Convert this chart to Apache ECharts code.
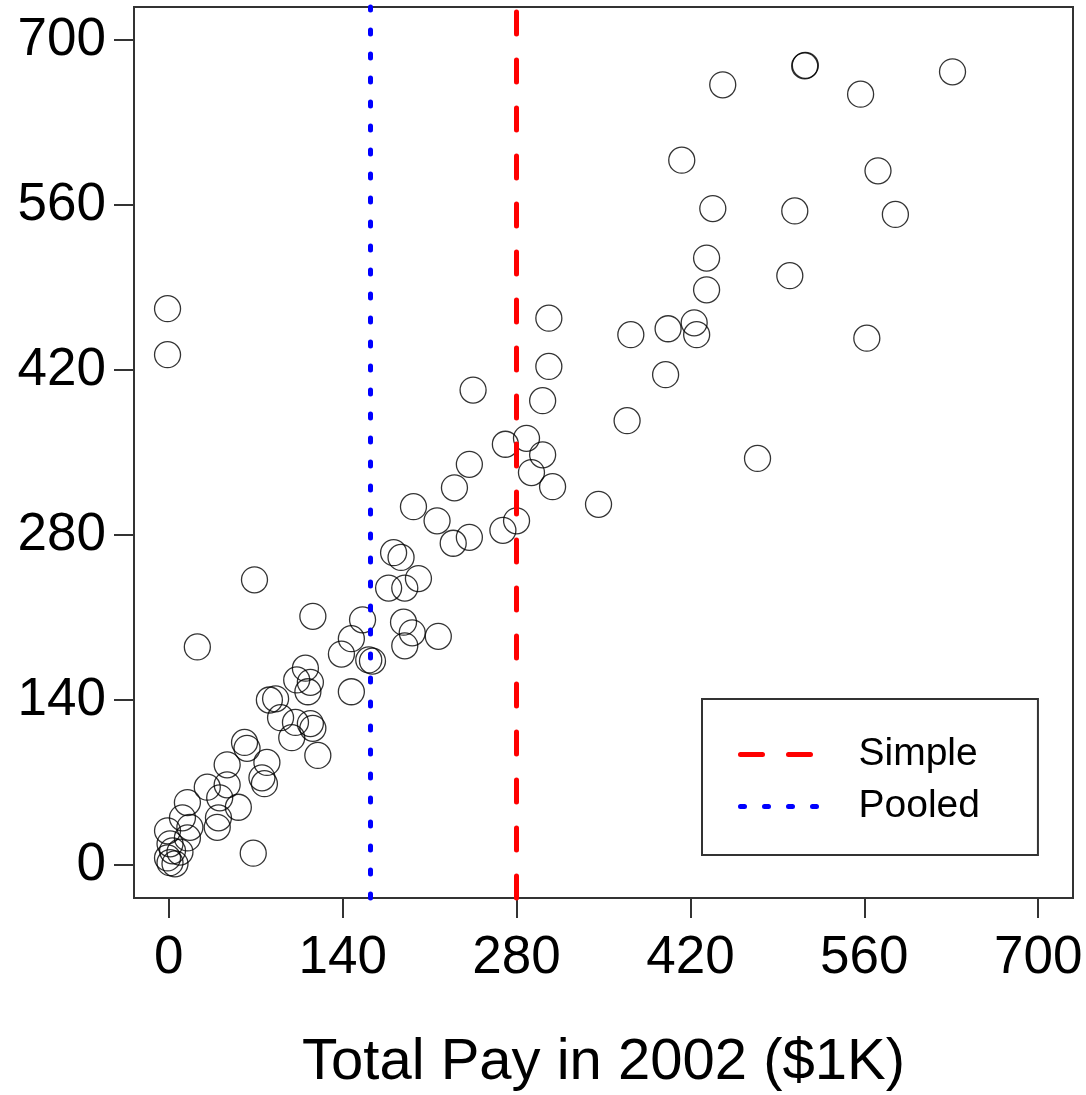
<!DOCTYPE html>
<html>
<head>
<meta charset="utf-8">
<script src="https://cdn.jsdelivr.net/npm/echarts@6/dist/echarts.min.js"></script>
<style>
  html, body { margin: 0; padding: 0; background: #fff; }
  #chart { width: 1086px; height: 1095px; }
</style>
</head>
<body>
<div id="chart"></div>
<script>
// ---- data ----
const payX = [512, 512.5, 631, 446, 557, 413, 571, 438, 504, 585, 433, 433, 500, 372, 402, 423, 425, 562, 400, 369,
  474, 306, 306, 245, 301, 271, 288, 301, 292, 309, 346, 242, 230, 197, 216, 280, 269, 242, 229, 181,
  187, 201, 177, 190, -1, -1, 69, 23, 116, 156, 189, 196, 217, 190, 147, 139, 161, 164, 147, 110,
  114, 103, 112, 81, 86, 90, 102, 114, 116, 99, 120, 61, 63, 79, 47, 75, 77, 31, 47, 56,
  41, 15, 40, 39, 11, 17, -1, 15, 1, 3, 9, -1, 1, 5, 68];
const payY = [678, 678.5, 673, 662, 654, 598, 589, 557, 555, 552, 515, 488, 500, 450, 455, 460, 450, 447, 416, 377,
  345, 464, 423, 403, 394, 357, 362, 348, 333, 321, 306, 340, 320, 304, 292, 292, 284, 278, 273, 265,
  261, 243, 235, 235, 472, 433, 242, 185, 211, 208, 206, 197, 194, 186, 192, 179, 174, 173, 147, 167,
  155, 157, 147, 140, 141, 125, 121, 120, 116, 108, 93, 104, 99, 87, 85, 74, 69, 66, 68, 49,
  57, 53, 40, 32, 40, 32, 29, 23, 18, 12, 11, 6, 2, 1, 10];
const simpleX = 280;
const pooledX = 162.5;
const xTicks = [0, 140, 280, 420, 560, 700];
const yTicks = [0, 140, 280, 420, 560, 700];
const xTitle = 'Total Pay in 2002 ($1K)';
const legendNames = ['Simple', 'Pooled'];

const points = payX.map((x, i) => [x, payY[i]]);

const FONT = "'Liberation Sans', Arial, Helvetica, sans-serif";
const chart = echarts.init(document.getElementById('chart'));

const axisBase = {
  type: 'value',
  min: -28,
  max: 728,
  splitLine: { show: false },
  axisLine: { show: true, onZero: false, lineStyle: { color: '#333', width: 2 } },
  axisTick: { show: true, inside: false, length: 20, lineStyle: { color: '#333', width: 2 } },
  axisLabel: { color: '#000', fontSize: 53, fontFamily: FONT }
};

chart.setOption({
  animation: false,
  backgroundColor: '#fff',
  textStyle: { fontFamily: FONT },
  grid: {
    left: 134, right: 13, top: 7, bottom: 197,
    containLabel: false,
    outerBoundsMode: 'none',
    show: true, borderColor: '#333', borderWidth: 2, backgroundColor: 'transparent'
  },
  xAxis: Object.assign({}, axisBase, {
    axisTick: Object.assign({}, axisBase.axisTick, { customValues: xTicks }),
    axisLabel: Object.assign({}, axisBase.axisLabel, { customValues: xTicks, margin: 34 }),
    name: xTitle,
    nameLocation: 'middle',
    nameGap: 136,
    nameTextStyle: { color: '#000', fontSize: 58, fontFamily: FONT }
  }),
  yAxis: Object.assign({}, axisBase, {
    axisTick: Object.assign({}, axisBase.axisTick, { customValues: yTicks }),
    axisLabel: Object.assign({}, axisBase.axisLabel, { customValues: yTicks, margin: 28 })
  }),
  legend: {
    data: legendNames,
    orient: 'vertical',
    left: 702,
    top: 699,
    padding: [36, 58, 29, 36],
    itemGap: 13,
    itemWidth: 78,
    itemHeight: 14,
    borderColor: '#333',
    borderWidth: 2,
    backgroundColor: '#fff',
    selectedMode: false,
    itemStyle: { color: 'rgba(0,0,0,0)', borderWidth: 0 },
    lineStyle: { width: 5, cap: 'round' },
    textStyle: { color: '#000', fontSize: 39, lineHeight: 39, fontFamily: FONT, padding: [0, 0, 0, 35] }
  },
  series: [
    {
      type: 'scatter',
      name: 'Pay',
      data: points,
      symbol: 'circle',
      symbolSize: 26,
      itemStyle: { color: 'rgba(0,0,0,0)', borderColor: '#000', borderWidth: 1.3 },
      silent: true,
      z: 2
    },
    {
      type: 'line',
      name: 'Simple',
      data: [],
      symbol: 'none',
      color: '#ff0000',
      lineStyle: { color: '#ff0000', width: 5, type: [22, 26], cap: 'round' },
      markLine: {
        silent: true,
        symbol: ['none', 'none'],
        label: { show: false },
        lineStyle: { color: '#ff0000', width: 5, type: [22, 26], cap: 'round' },
        data: [{ xAxis: simpleX }]
      },
      z: 3
    },
    {
      type: 'line',
      name: 'Pooled',
      data: [],
      symbol: 'none',
      color: '#0000ff',
      lineStyle: { color: '#0000ff', width: 5, type: [4, 20], cap: 'round' },
      markLine: {
        silent: true,
        symbol: ['none', 'none'],
        label: { show: false },
        lineStyle: { color: '#0000ff', width: 5, type: [4, 20], cap: 'round' },
        data: [{ xAxis: pooledX }]
      },
      z: 3
    }
  ]
});
</script>
</body>
</html>
